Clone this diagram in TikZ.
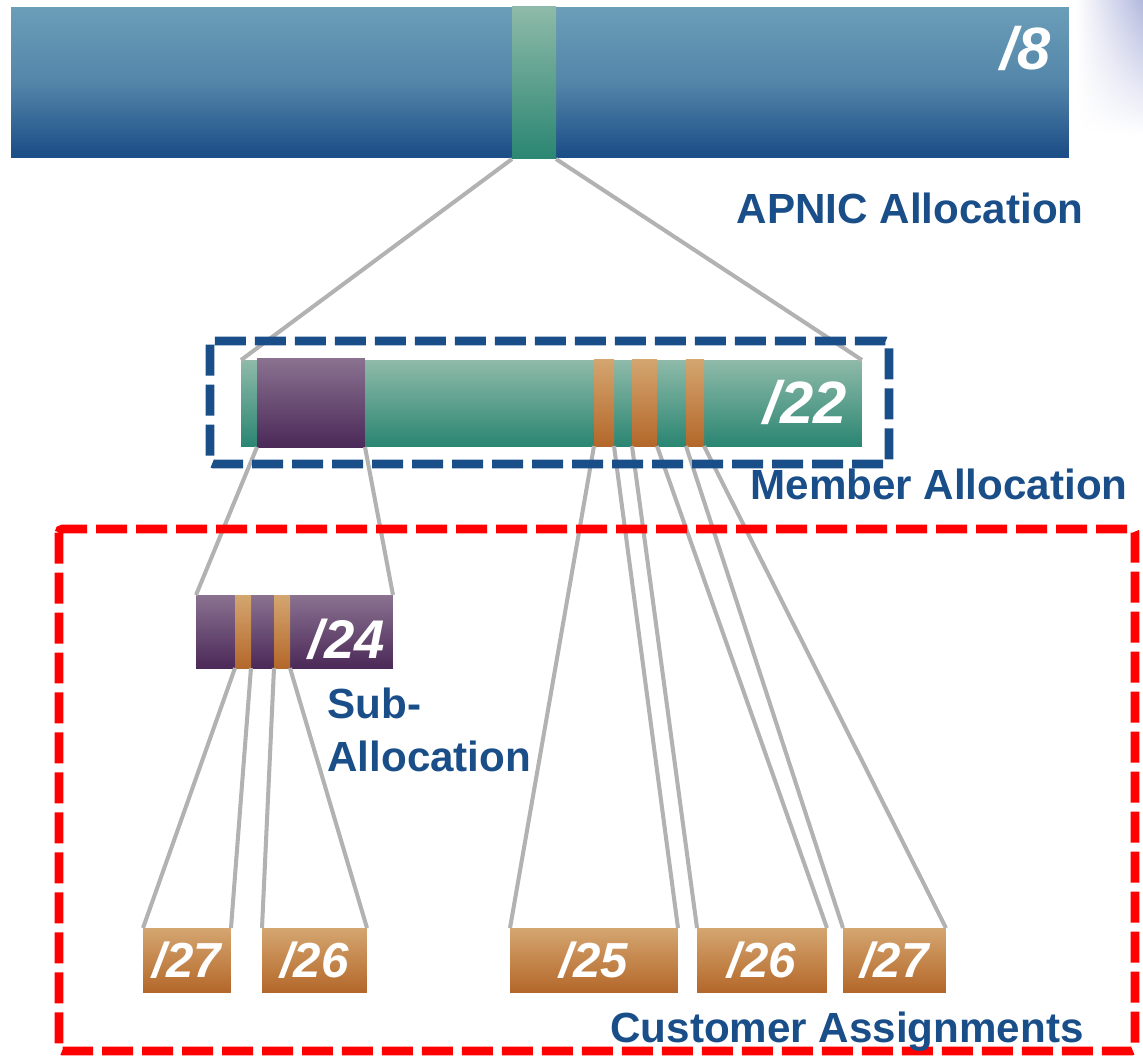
\documentclass[tikz,border=0pt]{standalone}
\usepackage{fontspec}
\setmainfont{Liberation Sans}
\usepackage{xcolor}
\usetikzlibrary{fadings}
\definecolor{bluetop}{RGB}{107,158,184}
\definecolor{bluebot}{RGB}{26,76,134}
\definecolor{greentop}{RGB}{143,186,169}
\definecolor{greenbot}{RGB}{42,134,114}
\definecolor{purptop}{RGB}{138,114,144}
\definecolor{purpbot}{RGB}{75,41,88}
\definecolor{orgtop}{RGB}{212,166,112}
\definecolor{orgbot}{RGB}{180,103,42}
\definecolor{linkgray}{RGB}{178,178,178}
\definecolor{apnicblue}{RGB}{26,78,137}
\definecolor{lavender}{RGB}{178,184,222}

\begin{document}
\begin{tikzpicture}[x=0.02cm,y=-0.02cm,
  blk/.style={inner sep=0pt,outer sep=0pt,text=white,font=\bfseries\itshape\fontsize{28}{28}\selectfont},
  bluebar/.style={blk,top color=bluetop,bottom color=bluebot,middle color=bluetop!70!bluebot},
  greenbar/.style={blk,top color=greentop,bottom color=greenbot},
  purplebar/.style={blk,top color=purptop,bottom color=purpbot},
  orangebar/.style={blk,top color=orgtop,bottom color=orgbot},
  num/.style={inner sep=0pt,anchor=base east,text=white,font=\bfseries\itshape\fontsize{#1}{#1}\selectfont},
  num/.default=34,
  caption/.style={inner sep=0pt,text=apnicblue,font=\bfseries\fontsize{24}{30}\selectfont},
  link/.style={draw=linkgray,line width=2.3pt},
  dashframe/.style={line width=5pt,dash pattern=on 0.62cm off 0.18cm,rounded corners=2pt}]
\useasboundingbox (0,0) rectangle (1143,1056);
\shade[top color=lavender,bottom color=white,path fading=west] (1076,0) rectangle (1143,135);

\node[bluebar,minimum width=21.16cm,minimum height=3.02cm] (bar8) at (540,82.5) {};
\node[greenbar,minimum width=0.88cm,minimum height=3.06cm] (slice8) at (534,82.5) {};
\node[num] (lbl8) at (1051,69) {/8};

\node[greenbar,minimum width=12.42cm,minimum height=1.72cm] (bar22) at (551.5,403) {};
\node[purplebar,minimum width=2.16cm,minimum height=1.78cm] (sub22) at (311,402.5) {};
\node[orangebar,minimum width=0.4cm,minimum height=1.74cm] (m1) at (604,402.5) {};
\node[orangebar,minimum width=0.5cm,minimum height=1.74cm] (m2) at (644.5,402.5) {};
\node[orangebar,minimum width=0.36cm,minimum height=1.74cm] (m3) at (695,402.5) {};
\node[num] (lbl22) at (847,423) {/22};

\node[purplebar,minimum width=3.94cm,minimum height=1.46cm] (bar24) at (294.5,631.5) {};
\node[orangebar,minimum width=0.32cm,minimum height=1.46cm] (s1) at (243,631.5) {};
\node[orangebar,minimum width=0.32cm,minimum height=1.46cm] (s2) at (282,631.5) {};
\node[num=31] (lbl24) at (385,658) {/24};

\node[orangebar,minimum width=1.76cm,minimum height=1.28cm] (b27a) at (187,960) {/27};
\node[orangebar,minimum width=2.1cm,minimum height=1.28cm] (b26a) at (314.5,960) {/26};
\node[orangebar,minimum width=3.36cm,minimum height=1.28cm] (b25) at (594,960) {/25};
\node[orangebar,minimum width=2.6cm,minimum height=1.28cm] (b26b) at (762,960) {/26};
\node[orangebar,minimum width=2.06cm,minimum height=1.28cm] (b27b) at (894.5,960) {/27};

\foreach \a/\b in {slice8/bar22,sub22/bar24,s1/b27a,s2/b26a,m1/b25,m2/b26b,m3/b27b}{
  \draw[link] (\a.south west) -- (\b.north west);
  \draw[link] (\a.south east) -- (\b.north east);
}

\draw[dashframe,draw=apnicblue] (210,341) rectangle (889,464);
\draw[dashframe,draw=red] (59,529) rectangle (1135,1051);

\node[caption,anchor=base east] (capapnic) at (1084,223) {APNIC Allocation};
\node[caption,anchor=base east] (capmember) at (1128,499) {Member Allocation};
\node[caption,anchor=base west,align=left] (capsub) at (327,771) {Sub-\\Allocation};
\node[caption,anchor=base east] (capcust) at (1084,1042) {Customer Assignments};
\end{tikzpicture}
\end{document}
